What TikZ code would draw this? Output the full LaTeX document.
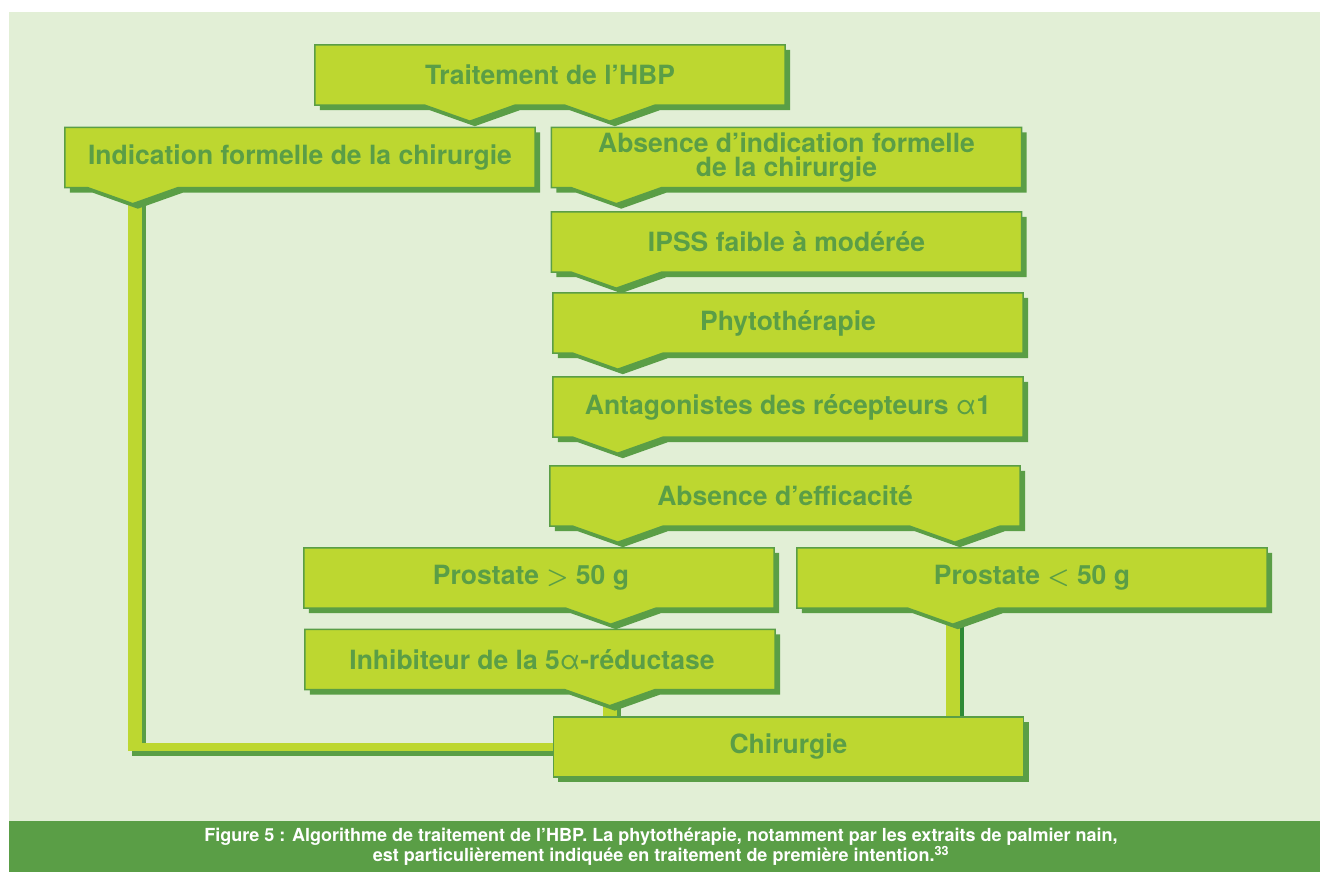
\documentclass[tikz,border=0pt]{standalone}
\usepackage{xcolor}
\usepackage{fontspec}
\usepackage{tikz}
\usetikzlibrary{calc}
\setmainfont{TeX Gyre Heros}
\definecolor{bggreen}{HTML}{E2EFD6}
\definecolor{boxgreen}{HTML}{BDD730}
\definecolor{darkgreen}{HTML}{5A9E46}
\definecolor{stemdark}{HTML}{2E8A36}
\pgfdeclarelayer{back}
\pgfsetlayers{back,main}
\newcommand\boxpath[2]{(#1.north west) -- (#1.north east) -- (#1.south east)
  foreach \d in {#2} {-- ($(#1.south west)+(\d+45,0)$) -- ($(#1.south west)+(\d,16)$) -- ($(#1.south west)+(\d-45,0)$)}
  -- (#1.south west) -- cycle}

\begin{document}
\begin{tikzpicture}[x=1pt, y=-1pt,
  txt/.style={minimum width=470, minimum height=60, inner sep=0, align=center, text=darkgreen,
    font=\bfseries\fontsize{26.5}{24}\selectfont},
  box/.style={fill=boxgreen, draw=darkgreen, line width=1.5,
    preaction={fill=darkgreen, transform canvas={shift={(5pt,-5pt)}}}},
  stem/.style={draw=boxgreen, line width=14,
    preaction={draw=#1, line width=14, transform canvas={shift={(4pt,-5pt)}}}}, stem/.default=darkgreen,
  hstem/.style={draw=boxgreen, line width=8,
    preaction={draw=darkgreen, line width=8, transform canvas={shift={(4pt,-5pt)}}}}]
  \useasboundingbox (0,0) rectangle (1320,872);
  \node[txt] (A) at (550,75) {Traitement de l’HBP};
  \node[txt] (B) at (300,157.5) {Indication formelle de la chirurgie};
  \node[txt] (C) at (786.5,157.5) {Absence d’indication formelle\\de la chirurgie};
  \node[txt] (D) at (786.5,242) {IPSS faible à modérée};
  \node[txt] (E) at (788,323) {Phytothérapie};
  \node[txt] (F) at (788,407) {Antagonistes des récepteurs {\mdseries α}1};
  \node[txt] (G) at (785,496) {Absence d’efficacité};
  \node[txt] (H) at (539,578) {Prostate {\boldmath$>$} 50 g\hspace{16pt}};
  \node[txt] (I) at (1032,578) {Prostate {\boldmath$<$} 50 g};
  \node[txt] (J) at (540,659.5) {Inhibiteur de la 5{\mdseries α}-réductase\hspace{16pt}};
  \node[txt] (K) at (788.5,747) {Chirurgie};
  \node[text=white, align=center, font=\bfseries\fontsize{18}{19}\selectfont] (cap) at (661,847)
    {Figure 5 : Algorithme de traitement de l’HBP. La phytothérapie, notamment par les extraits de palmier nain,\\
     est particulièrement indiquée en traitement de première intention.\textsuperscript{33}};
  \begin{pgfonlayer}{back}
    \fill[white] (0,0) rectangle (1320,872);
    \fill[bggreen] (9,12) rectangle (1320,821);
    \fill[darkgreen] (9,821) rectangle (1320,872);
    \path ($(B.south west)+(70,0)$) coordinate (b) ($(J.south west)+(305,0)$) coordinate (j)
      ($(I.south west)+(156,0)$) coordinate (i);
    \draw[stem] (b) -- ($(b |- K.west)+(0,4)$);
    \draw[hstem] ($(b |- K.west)+(-7,0)$) -- (K.west);
    \draw[stem] (j) -- (j |- K.north);
    \draw[stem=stemdark] (i) -- (i |- K.north);
    \draw[box] \boxpath{A}{295,155};
    \draw[box] \boxpath{B}{68};
    \draw[box] \boxpath{C}{65};
    \draw[box] \boxpath{D}{65};
    \draw[box] \boxpath{E}{65};
    \draw[box] \boxpath{F}{65};
    \draw[box] \boxpath{G}{405,68};
    \draw[box] \boxpath{H}{307};
    \draw[box] \boxpath{I}{156};
    \draw[box] \boxpath{J}{305};
    \draw[box] (K.north west) rectangle (K.south east);
  \end{pgfonlayer}
\end{tikzpicture}
\end{document}
